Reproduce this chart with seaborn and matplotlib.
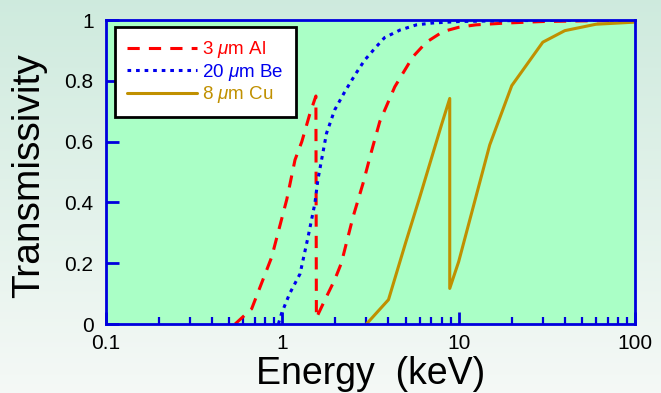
import numpy as np
import pandas as pd
import matplotlib
matplotlib.use("Agg")
import matplotlib.pyplot as plt
import seaborn as sns

# ---- data ----
al_energy = [0.54, 0.67, 0.87, 1.06, 1.18, 1.29, 1.43, 1.55, 1.56, 1.78, 1.98, 2.16,
             2.52, 2.87, 3.2, 3.57, 4.34, 4.83, 5.5, 6.56, 8.15, 10, 12.5, 18.6, 30, 50, 100]
al_trans = [0.0, 0.05, 0.22, 0.41, 0.54, 0.60, 0.69, 0.75, 0.02, 0.09, 0.145, 0.20,
            0.353, 0.463, 0.567, 0.666, 0.78, 0.825, 0.879, 0.927, 0.962, 0.976, 0.984,
            0.99, 0.995, 0.997, 0.998]

be_energy = [0.95, 0.99, 1.10, 1.26, 1.40, 1.53, 1.59, 1.78, 1.98, 2.26, 2.58, 2.93,
             3.41, 3.8, 4.65, 5.76, 7.1, 10, 20, 50, 100]
be_trans = [0.0, 0.035, 0.10, 0.165, 0.287, 0.397, 0.474, 0.627, 0.704, 0.764, 0.819,
            0.868, 0.912, 0.942, 0.967, 0.984, 0.99, 0.995, 0.998, 0.999, 1.0]

cu_energy = [3.0, 4.0, 5.0, 6.0, 7.0, 8.0, 8.9, 8.9, 10, 15, 20, 30, 40, 60, 100]
cu_trans = [0.0, 0.08, 0.267, 0.415, 0.544, 0.656, 0.742, 0.117, 0.205, 0.589, 0.784,
            0.927, 0.965, 0.986, 0.993]

labels = [r"3 $\mu$m Al", r"20 $\mu$m Be", r"8 $\mu$m Cu"]
colors = ["#ff0000", "#0000ee", "#c09000"]

xticks = [0.1, 1, 10, 100]
xticklabels = ["0.1", "1", "10", "100"]
yticks = [0, 0.2, 0.4, 0.6, 0.8, 1.0]
yticklabels = ["0", "0.2", "0.4", "0.6", "0.8", "1"]

df = pd.concat([
    pd.DataFrame({"Energy": al_energy, "T": al_trans, "series": labels[0]}),
    pd.DataFrame({"Energy": be_energy, "T": be_trans, "series": labels[1]}),
    pd.DataFrame({"Energy": cu_energy, "T": cu_trans, "series": labels[2]}),
], ignore_index=True)

sns.set_style("ticks")
plt.rcParams["font.family"] = ["Liberation Sans", "DejaVu Sans"]
plt.rcParams["mathtext.fontset"] = "custom"
plt.rcParams["mathtext.it"] = "Liberation Sans:italic"
plt.rcParams["mathtext.rm"] = "Liberation Sans"
plt.rcParams["text.color"] = "black"
plt.rcParams["axes.labelcolor"] = "black"
plt.rcParams["xtick.labelcolor"] = "black"
plt.rcParams["ytick.labelcolor"] = "black"

fig = plt.figure(figsize=(6.61, 3.93), dpi=100)

# gradient figure background
bg = fig.add_axes([0, 0, 1, 1], zorder=-10)
top = np.array([0.81, 0.92, 0.87])
bot = np.array([0.96, 0.975, 0.965])
t = np.linspace(0, 1, 200)[:, None]
grad = (top[None, :] * (1 - t) + bot[None, :] * t)[:, None, :]
bg.imshow(grad, aspect="auto", extent=[0, 1, 0, 1])
bg.set_axis_off()

ax = fig.add_axes([106 / 661, 1 - 324 / 393, 529 / 661, 304 / 393])
ax.set_facecolor("#aaffc6")

styles = {labels[0]: (0, (4, 3)), labels[1]: (0, (1.2, 1.6)), labels[2]: "-"}
for lab, col in zip(labels, colors):
    sub = df[df["series"] == lab]
    sns.lineplot(data=sub, x="Energy", y="T", sort=False, estimator=None, ax=ax,
                 color=col, lw=2.2, label=lab)
    ax.lines[-1].set_linestyle(styles[lab])

ax.set_xscale("log")
ax.set_xlim(0.1, 100)
ax.set_ylim(0, 1)
ax.set_xticks(xticks)
ax.set_xticklabels(xticklabels)
ax.set_yticks(yticks)
ax.set_yticklabels(yticklabels)

for s in ax.spines.values():
    s.set_color("#0000dd")
    s.set_linewidth(2)
ax.tick_params(axis="both", which="major", direction="in", color="#0000dd",
               width=2, length=9, labelsize=15, pad=9, labelcolor="black")
ax.tick_params(axis="x", which="major", pad=7)
ax.tick_params(axis="x", which="minor", direction="in", color="#0000dd",
               width=1.6, length=5)
ax.tick_params(top=False, right=False, which="both")

ax.set_xlabel("Energy  (keV)", fontsize=27, color="black")
ax.xaxis.set_label_coords(0.5, -0.104)
ax.set_ylabel("Transmissivity", fontsize=28, color="black")
ax.yaxis.set_label_coords(-0.112, 0.488)

leg = ax.legend(loc="upper left", bbox_to_anchor=(0.017, 0.977), frameon=True,
                fancybox=False, fontsize=13.5, handlelength=3.7, handletextpad=0.3,
                labelspacing=0.08, borderpad=0.65, borderaxespad=0, labelcolor="linecolor")
leg.get_frame().set_edgecolor("black")
leg.get_frame().set_linewidth(2)
leg.get_frame().set_facecolor("white")
leg.get_frame().set_alpha(1)

fig.savefig("out.png", dpi=100)
